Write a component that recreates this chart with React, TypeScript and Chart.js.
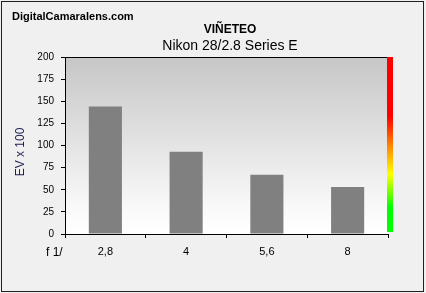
import React, { useEffect, useRef } from "react";
import { Chart, registerables } from "chart.js";

Chart.register(...registerables);

const categories = ["2,8", "4", "5,6", "8"];
const vignetting = [144, 93, 67, 53];
const yTicks = [0, 25, 50, 75, 100, 125, 150, 175, 200];
const siteName = "DigitalCamaralens.com";
const titleText = "VIÑETEO";
const subtitleText = "Nikon 28/2.8 Series E";
const yTitle = "EV x 100";
const xTitle = "f 1/";

const FONT = "'Liberation Sans', Arial, sans-serif";

const decor = {
  id: "decor",
  beforeDraw(chart: any) {
    const { ctx, width, height, chartArea } = chart;
    ctx.save();
    ctx.fillStyle = "#f0f0f0";
    ctx.fillRect(0, 0, width, height);
    ctx.strokeStyle = "#202020";
    ctx.lineWidth = 1;
    ctx.strokeRect(1.5, 1.5, width - 4, height - 3);
    const g = ctx.createLinearGradient(0, chartArea.top, 0, chartArea.bottom);
    g.addColorStop(0, "#c6c6c6");
    g.addColorStop(0.85, "#f9f9f9");
    g.addColorStop(1, "#ffffff");
    ctx.fillStyle = g;
    ctx.fillRect(chartArea.left, chartArea.top, chartArea.right - chartArea.left, chartArea.bottom - chartArea.top);
    ctx.restore();
  },
  afterDraw(chart: any) {
    const { ctx, chartArea } = chart;
    ctx.save();
    ctx.strokeStyle = "#000";
    ctx.lineWidth = 1;
    ctx.beginPath();
    ctx.moveTo(chartArea.left, chartArea.top + 0.5);
    ctx.lineTo(chartArea.right, chartArea.top + 0.5);
    ctx.stroke();
    const cb = ctx.createLinearGradient(0, chartArea.top, 0, chartArea.bottom - 2);
    cb.addColorStop(0, "#ff0000");
    cb.addColorStop(0.34, "#ff0000");
    cb.addColorStop(0.5, "#ff8000");
    cb.addColorStop(0.67, "#ffff00");
    cb.addColorStop(0.86, "#00ff00");
    cb.addColorStop(1, "#00ff00");
    ctx.fillStyle = cb;
    ctx.fillRect(chartArea.right - 1, chartArea.top, 6, chartArea.bottom - 2 - chartArea.top);
    ctx.fillStyle = "#000";
    ctx.textBaseline = "alphabetic";
    ctx.textAlign = "left";
    ctx.font = `bold 11px ${FONT}`;
    ctx.fillText(siteName, 12, 20);
    ctx.textAlign = "center";
    ctx.font = `bold 12px ${FONT}`;
    ctx.fillText(titleText, 230, 33);
    ctx.font = `14px ${FONT}`;
    ctx.fillText(subtitleText, 230, 50);
    ctx.font = `12px ${FONT}`;
    ctx.textAlign = "left";
    ctx.fillText(xTitle, 46, 256);
    ctx.save();
    ctx.translate(24, 152);
    ctx.rotate(-Math.PI / 2);
    ctx.textAlign = "center";
    ctx.fillStyle = "#1c1c50";
    ctx.fillText(yTitle, 0, 0);
    ctx.restore();
    ctx.restore();
  },
};

export default function App() {
  const ref = useRef<HTMLCanvasElement | null>(null);
  useEffect(() => {
    document.body.style.margin = "0";
    const chart = new Chart(ref.current as HTMLCanvasElement, {
      type: "bar",
      data: {
        labels: categories,
        datasets: [
          {
            data: vignetting,
            backgroundColor: "#808080",
            barPercentage: 0.41,
            categoryPercentage: 1,
          },
        ],
      },
      options: {
        responsive: false,
        animation: false,
        devicePixelRatio: 1,
        layout: { padding: { top: 57, right: 38, left: 0, bottom: 0 } },
        plugins: { legend: { display: false }, tooltip: { enabled: false }, title: { display: false } },
        scales: {
          x: {
            type: "category",
            offset: true,
            grid: { offset: true, drawOnChartArea: false, drawTicks: true, tickLength: 4, color: "#000" },
            border: { color: "#000", width: 1 },
            ticks: { color: "#000", font: { family: FONT, size: 11 }, padding: 7, maxRotation: 0 },
            afterFit: (s: any) => {
              s.height = 59;
            },
          },
          y: {
            min: 0,
            max: 200,
            afterBuildTicks: (s: any) => {
              s.ticks = yTicks.map((v) => ({ value: v }));
            },
            grid: { drawOnChartArea: false, drawTicks: true, tickLength: 4, color: "#000" },
            border: { color: "#000", width: 1 },
            ticks: { color: "#000", font: { family: FONT, size: 10 }, padding: 7 },
            afterFit: (s: any) => {
              s.width = 65;
            },
          },
        },
      },
      plugins: [decor],
    });
    return () => chart.destroy();
  }, []);
  return (
    <div style={{ position: "absolute", left: 0, top: 0, width: 426, height: 293 }}>
      <canvas ref={ref} width={426} height={293} style={{ width: 426, height: 293, display: "block" }} />
    </div>
  );
}
